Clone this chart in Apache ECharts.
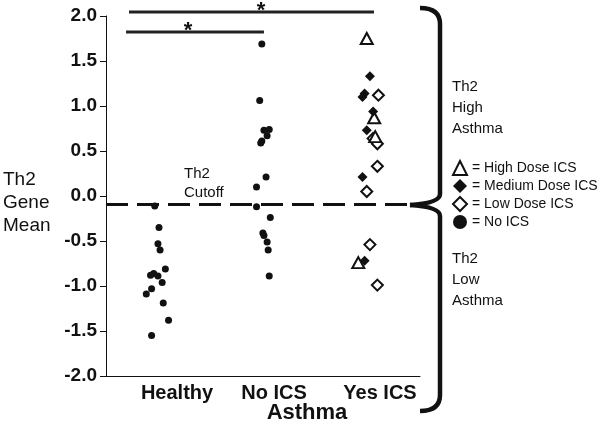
<!DOCTYPE html>
<html>
<head>
<meta charset="utf-8">
<script src="https://cdn.jsdelivr.net/npm/echarts@6/dist/echarts.min.js"></script>
<style>html,body{margin:0;padding:0;background:#fff}#c{width:600px;height:438px}</style>
</head>
<body>
<div id="c"></div>
<script>
// ---- data ----
var categories = ['Healthy', 'No ICS', 'Yes ICS'];
var yTicks = [-2.0, -1.5, -1.0, -0.5, 0.0, 0.5, 1.0, 1.5, 2.0];
var th2Cutoff = -0.09;

var healthyValues = [-0.11, -0.35, -0.53, -0.60, -0.81, -0.88, -0.86, -0.89, -0.96, -1.03, -1.09, -1.19, -1.38, -1.55];
var healthyJitter = [-0.04, 0.00, -0.01, 0.01, 0.06, -0.08, -0.05, -0.01, 0.03, -0.07, -0.12, 0.04, 0.09, -0.07];

var noIcsValues = [1.69, 1.06, 0.74, 0.73, 0.67, 0.61, 0.59, 0.21, 0.10, -0.12, -0.24, -0.41, -0.44, -0.51, -0.60, -0.89];
var noIcsJitter = [-0.03, -0.05, 0.04, -0.01, 0.02, -0.03, -0.04, 0.01, -0.08, -0.08, 0.05, -0.02, -0.01, 0.02, 0.03, 0.04];

var highDoseValues = [1.75, 0.87, 0.66, -0.74];
var highDoseJitter = [-0.04, 0.03, 0.04, -0.12];

var mediumDoseValues = [1.33, 1.14, 1.10, 0.94, 0.73, 0.21, -0.72];
var mediumDoseJitter = [-0.01, -0.06, -0.08, 0.02, -0.04, -0.08, -0.06];

var lowDoseValues = [1.12, 0.64, 0.58, 0.33, 0.05, -0.54, -0.99];
var lowDoseJitter = [0.07, 0.02, 0.06, 0.06, -0.04, -0.01, 0.06];

// significance bars: [from x, to x, y, asterisk x]
var sigUpper = [0.717, 3.028, 2.044, 1.962];
var sigLower = [0.689, 1.990, 1.822, 1.274];

// ---- build ----
function pts(groupIndex, values, jitter) {
  return values.map(function (v, i) { return [groupIndex + 1 + jitter[i], v]; });
}
var FONT = 'Liberation Sans, Arial, Helvetica, sans-serif';
var labelPos = [1.17, 2.085, 3.085];
var braceStyle = { fill: 'none', stroke: '#111', lineWidth: 4.5 };

var chart = echarts.init(document.getElementById('c'));
var option = {
  animation: false,
  backgroundColor: '#fff',
  textStyle: { fontFamily: FONT },
  grid: { left: 106, right: 180, top: 16, bottom: 62, containLabel: false },
  legend: {
    orient: 'vertical',
    left: 447, top: 155,
    itemWidth: 14, itemHeight: 14, itemGap: 3,
    selectedMode: false,
    data: ['High Dose ICS', 'Medium Dose ICS', 'Low Dose ICS', 'No ICS'],
    formatter: function (n) { return '= ' + n; },
    textStyle: { fontSize: 14, color: '#111', fontFamily: FONT }
  },
  xAxis: {
    type: 'value',
    min: 0.5, max: 0.5 + 314 / 106,
    name: 'Asthma',
    nameLocation: 'middle',
    nameGap: 26,
    nameMoveOverlap: false,
    nameTextStyle: { fontSize: 22, fontWeight: 'bold', color: '#111', fontFamily: FONT, padding: [0, 0, 0, 88] },
    axisLine: { show: true, onZero: false, lineStyle: { color: '#111', width: 1 } },
    axisTick: { show: false },
    splitLine: { show: false },
    axisLabel: {
      customValues: labelPos,
      margin: 7,
      fontSize: 20, fontWeight: 'bold', color: '#111', fontFamily: FONT,
      formatter: function (v) {
        var best = 0, d = 1e9;
        labelPos.forEach(function (p, i) { if (Math.abs(p - v) < d) { d = Math.abs(p - v); best = i; } });
        return categories[best];
      }
    }
  },
  yAxis: {
    type: 'value',
    min: yTicks[0], max: yTicks[yTicks.length - 1], interval: 0.5,
    axisLine: { show: true, onZero: false, lineStyle: { color: '#111', width: 1 } },
    axisTick: { show: true, inside: false, length: 6, lineStyle: { color: '#111' } },
    splitLine: { show: false },
    axisLabel: {
      margin: 9,
      fontSize: 19, fontWeight: 'bold', color: '#111', fontFamily: FONT,
      formatter: function (v) { return v.toFixed(1); }
    }
  },
  series: [
    {
      name: 'Healthy', type: 'scatter', symbol: 'circle', symbolSize: 7,
      itemStyle: { color: '#111', opacity: 1 },
      data: pts(0, healthyValues, healthyJitter),
      markLine: {
        silent: true, symbol: ['none', 'none'],
        label: { show: false },
        lineStyle: { type: [22, 9], width: 3, color: '#111' },
        data: [{ yAxis: th2Cutoff }]
      }
    },
    {
      name: 'No ICS', type: 'scatter', symbol: 'circle', symbolSize: 7,
      itemStyle: { color: '#111', opacity: 1 },
      data: pts(1, noIcsValues, noIcsJitter)
    },
    {
      name: 'Low Dose ICS', type: 'scatter', symbol: 'diamond', symbolSize: 11,
      itemStyle: { color: '#fff', borderColor: '#111', borderWidth: 2, opacity: 1 },
      data: pts(2, lowDoseValues, lowDoseJitter)
    },
    {
      name: 'High Dose ICS', type: 'scatter', symbol: 'triangle', symbolSize: [12, 11],
      itemStyle: { color: '#fff', borderColor: '#111', borderWidth: 2, opacity: 1 },
      data: pts(2, highDoseValues, highDoseJitter)
    },
    {
      name: 'Medium Dose ICS', type: 'scatter', symbol: 'diamond', symbolSize: 10,
      itemStyle: { color: '#111', opacity: 1 },
      data: pts(2, mediumDoseValues, mediumDoseJitter)
    },
    {
      name: 'sigUpper', type: 'line', clip: false, symbol: 'none', silent: true,
      lineStyle: { color: '#222', width: 3 },
      data: [[sigUpper[0], sigUpper[2]], [sigUpper[1], sigUpper[2]]]
    },
    {
      name: 'sigLower', type: 'line', clip: false, symbol: 'none', silent: true,
      lineStyle: { color: '#222', width: 3 },
      data: [[sigLower[0], sigLower[2]], [sigLower[1], sigLower[2]]]
    },
    {
      name: 'stars', type: 'scatter', clip: false, silent: true, symbolSize: 2,
      itemStyle: { color: 'rgba(0,0,0,0)', opacity: 1 },
      label: {
        show: true, position: 'inside', formatter: '*', offset: [0, -1],
        fontSize: 22, fontWeight: 'bold', color: '#111', fontFamily: FONT
      },
      data: [[sigUpper[3], sigUpper[2]], [sigLower[3], sigLower[2]]]
    }
  ],
  graphic: [
    { type: 'bezierCurve', shape: { x1: 420, y1: 8, cpx1: 440, cpy1: 8, x2: 440, y2: 24 }, style: braceStyle },
    { type: 'line', shape: { x1: 440, y1: 24, x2: 440, y2: 194 }, style: braceStyle },
    { type: 'bezierCurve', shape: { x1: 440, y1: 194, cpx1: 440, cpy1: 203, x2: 410, y2: 205 }, style: braceStyle },
    { type: 'bezierCurve', shape: { x1: 410, y1: 205, cpx1: 440, cpy1: 207, x2: 440, y2: 216 }, style: braceStyle },
    { type: 'line', shape: { x1: 440, y1: 216, x2: 440, y2: 395 }, style: braceStyle },
    { type: 'bezierCurve', shape: { x1: 440, y1: 395, cpx1: 440, cpy1: 411, x2: 420, y2: 411 }, style: braceStyle },
    {
      type: 'text', left: 3, top: 168,
      style: { text: 'Th2\nGene\nMean', fontSize: 19, lineHeight: 23, fill: '#111', fontFamily: FONT }
    },
    {
      type: 'text', left: 184, top: 164,
      style: { text: 'Th2\nCutoff', fontSize: 15, lineHeight: 19, fill: '#111', fontFamily: FONT }
    },
    {
      type: 'text', left: 452, top: 76,
      style: { text: 'Th2\nHigh\nAsthma', fontSize: 15, lineHeight: 21, fill: '#111', fontFamily: FONT }
    },
    {
      type: 'text', left: 452, top: 248,
      style: { text: 'Th2\nLow\nAsthma', fontSize: 15, lineHeight: 21, fill: '#111', fontFamily: FONT }
    }
  ]
};
chart.setOption(option);
</script>
</body>
</html>
